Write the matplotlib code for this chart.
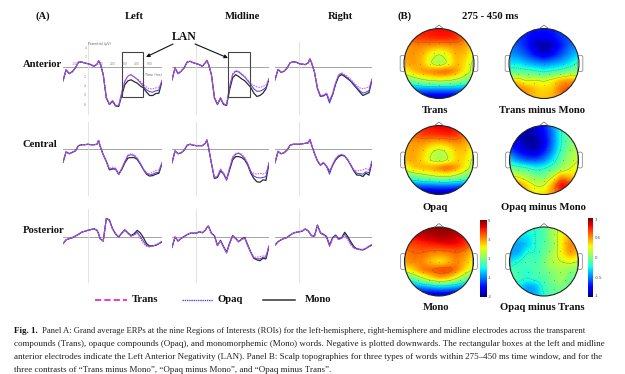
import numpy as np
import matplotlib
matplotlib.use("Agg")
import matplotlib.pyplot as plt
from matplotlib.patches import Circle, Rectangle, FancyBboxPatch

plt.rcParams['font.family'] = ['Liberation Serif', 'DejaVu Sans']

W, H = 625, 374

# ERP time axis (ms), same for every panel
times = [-200, -175, -150, -125, -100, -75, -50, -25, 0, 25, 50, 75, 87.5, 100,
         125, 150, 175, 200, 225, 250, 275, 300, 325, 350, 375, 400, 425, 450, 475, 500, 525, 550, 575, 600]

# baseline part up to 100 ms, the three conditions overlap there
pre_la = [-2.9, -0.6, -1.4, -1.0, -0.2, 1.0, 1.05, 0.85, 0.7, 0.5, 0.15, 0.6, 1.3, 0.85]
pre_ma = [-2.7, -0.2, -1.4, -0.9, -0.2, 1.05, 1.2, 0.9, 0.7, 0.5, 0.15, 0.9, 1.4, 0.7]
pre_ra = [-2.7, -0.5, -1.1, -0.9, -0.2, 0.9, 1.1, 1.0, 0.7, 0.6, 0.5, 0.9, 1.7, 1.0]
pre_cl = [-2.8, -0.6, -1.0, -0.7, -0.4, 0.7, 0.9, 0.9, 1.0, 0.9, 0.9, 1.0, 1.8, 0.6]
pre_cm = [-2.9, -0.4, -1.0, -0.8, -0.3, 0.8, 1.0, 0.8, 0.7, 0.7, 0.7, 1.2, 1.9, 0.5]
pre_cr = [-2.9, -0.5, -1.0, -0.8, -0.2, 0.8, 1.0, 1.0, 1.0, 1.1, 1.2, 1.3, 2.0, 1.0]
pre_pl = [-1.4, -0.6, -0.35, -0.15, 0.2, 0.55, 1.0, 1.2, 1.4, 1.55, 1.75, 1.4, 0.7, -0.35]
pre_pm = [-2.2, 0.0, -0.85, -0.3, 0.1, 0.5, 0.8, 0.8, 0.8, 1.1, 0.9, 1.4, 2.0, 2.3]
pre_pr = [-1.7, -1.0, -0.6, -0.3, -0.1, 0.4, 0.8, 1.0, 1.1, 1.25, 1.7, 1.25, 0.8, 0.3]

# 125 ms onwards
mono_la = [-1.6, -6.5, -7.9, -7.2, -8.2, -8.3, -5.9, -3.7, -2.9, -2.7, -3.1, -3.4, -4.0, -4.4, -5.3, -6.0, -6.0, -5.6, -5.5, -3.0]
trans_la = [-1.6, -6.4, -7.8, -7.0, -8.0, -8.1, -5.2, -2.9, -1.9, -1.7, -2.1, -2.5, -3.0, -3.7, -4.3, -4.6, -4.6, -4.4, -4.4, -2.8]
opaq_la = [-1.6, -6.4, -7.8, -7.1, -8.1, -8.2, -5.4, -3.0, -1.9, -1.6, -2.1, -2.6, -3.3, -4.1, -4.8, -5.2, -5.3, -5.0, -4.9, -2.8]

mono_ma = [-1.6, -6.5, -7.9, -6.6, -7.9, -8.1, -4.8, -2.3, -1.6, -2.0, -2.5, -2.9, -3.6, -4.3, -5.5, -6.2, -6.0, -5.5, -4.6, -2.5]
trans_ma = [-1.6, -6.4, -7.8, -6.4, -7.7, -7.9, -3.9, -1.4, -0.7, -0.9, -1.4, -2.0, -2.7, -3.4, -3.9, -4.2, -4.3, -4.1, -3.8, -2.4]
opaq_ma = [-1.6, -6.4, -7.8, -6.5, -7.8, -8.0, -4.2, -1.6, -0.9, -1.05, -1.6, -2.1, -2.9, -3.7, -4.6, -5.1, -5.1, -4.8, -4.3, -2.5]

mono_ra = [-1.0, -4.5, -6.2, -6.0, -5.6, -7.2, -5.8, -3.6, -2.0, -1.6, -2.0, -2.5, -3.0, -3.8, -4.5, -5.3, -6.0, -5.7, -5.4, -2.7]
trans_ra = [-1.0, -4.4, -6.0, -5.9, -5.5, -7.0, -5.4, -3.2, -1.6, -1.2, -1.6, -2.0, -2.6, -3.3, -3.9, -4.4, -4.6, -4.4, -4.2, -2.5]
opaq_ra = [-1.0, -4.5, -6.2, -6.1, -5.7, -7.6, -5.8, -3.4, -1.7, -1.4, -1.8, -2.3, -2.9, -3.6, -4.3, -5.0, -5.5, -5.3, -5.0, -2.6]

mono_cl = [-1.2, -2.6, -4.4, -4.2, -4.2, -5.3, -4.3, -2.9, -1.9, -1.8, -1.8, -2.2, -3.2, -4.3, -5.3, -5.7, -5.6, -5.3, -5.1, -3.0]
trans_cl = [-1.2, -2.5, -4.1, -3.8, -4.0, -5.3, -4.0, -2.5, -1.2, -1.0, -1.2, -1.9, -3.0, -4.2, -5.0, -5.2, -4.9, -4.5, -4.4, -2.8]
opaq_cl = [-1.2, -2.6, -4.3, -4.1, -4.2, -5.4, -4.1, -2.6, -1.4, -1.2, -1.4, -2.0, -3.0, -4.3, -5.1, -5.5, -5.3, -5.0, -4.9, -2.9]

mono_cm = [-3.0, -6.2, -6.0, -4.6, -5.2, -6.4, -4.4, -2.3, -1.6, -1.6, -1.8, -2.3, -3.4, -5.1, -6.2, -6.9, -7.0, -6.5, -6.6, -3.0]
trans_cm = [-3.0, -6.0, -5.6, -4.2, -5.0, -6.3, -3.9, -1.6, -0.9, -0.8, -1.1, -1.8, -3.0, -4.6, -5.1, -5.3, -5.1, -5.3, -5.0, -2.9]
opaq_cm = [-3.0, -6.1, -5.8, -4.4, -5.2, -6.6, -4.1, -1.9, -1.1, -0.9, -1.3, -2.0, -3.2, -4.8, -5.7, -6.0, -6.1, -6.0, -5.8, -2.9]

mono_cr = [-0.9, -2.5, -3.4, -2.9, -3.6, -4.8, -3.4, -2.3, -1.6, -1.3, -1.5, -2.3, -3.4, -4.6, -5.5, -5.5, -5.8, -5.1, -5.5, -2.7]
trans_cr = [-0.9, -2.4, -3.3, -2.8, -3.6, -4.6, -3.2, -2.0, -1.3, -1.1, -1.4, -2.2, -3.3, -4.3, -4.6, -4.5, -4.4, -4.1, -4.4, -2.5]
opaq_cr = [-0.9, -2.5, -3.4, -2.9, -3.7, -5.3, -3.4, -2.1, -1.4, -1.2, -1.5, -2.3, -3.4, -4.5, -5.1, -5.2, -5.3, -4.8, -5.0, -2.6]

mono_pl = [-0.85, 3.9, 3.6, 1.75, 0.7, 0.0, 0.85, 1.5, 0.85, 0.3, 0.7, 1.4, 0.85, -0.15, -1.4, -1.9, -1.85, -1.75, -1.4, -1.05]
trans_pl = [-0.9, 3.8, 3.5, 1.6, 0.6, -0.1, 0.7, 1.4, 0.7, 0.1, 0.4, 0.8, -0.3, -1.4, -2.0, -2.1, -1.9, -1.6, -1.3, -0.8]
opaq_pl = [-0.9, 3.9, 3.5, 1.7, 0.6, -0.05, 0.8, 1.45, 0.8, 0.2, 0.5, 1.0, 0.1, -0.9, -1.8, -2.0, -1.9, -1.7, -1.4, -1.0]

mono_pm = [0.8, 0.3, -1.8, -0.7, -2.0, -3.2, -1.3, 0.3, -0.3, -1.0, -0.4, -0.1, -1.7, -3.2, -4.5, -4.8, -5.0, -4.5, -4.6, -2.0]
trans_pm = [0.8, 0.2, -1.9, -0.8, -2.1, -3.3, -1.5, 0.2, -0.4, -1.0, -0.5, -0.3, -1.9, -3.3, -4.2, -4.3, -4.1, -4.0, -3.8, -1.8]
opaq_pm = [0.8, 0.2, -1.8, -0.8, -2.1, -3.4, -1.4, 0.2, -0.3, -1.0, -0.5, -0.2, -1.8, -3.3, -4.4, -4.6, -4.6, -4.3, -4.2, -1.9]

mono_pr = [0.15, 2.5, 0.9, 0.55, 0.1, -1.7, -0.15, 0.4, -0.4, -0.15, 1.0, 0.1, -1.0, -2.0, -2.5, -2.6, -2.7, -2.4, -2.0, -1.7]
trans_pr = [0.1, 2.4, 0.8, 0.4, -0.1, -2.0, -0.4, 0.2, -0.6, -0.3, 0.4, -0.6, -1.7, -2.4, -2.6, -2.6, -2.6, -2.3, -1.9, -1.5]
opaq_pr = [0.1, 2.5, 0.8, 0.5, 0.0, -1.9, -0.3, 0.3, -0.5, -0.2, 0.6, -0.3, -1.4, -2.2, -2.5, -2.7, -2.7, -2.4, -2.0, -1.6]

row_names = ["Anterior", "Central", "Posterior"]
col_names = ["Left", "Midline", "Right"]
condition_names = ["Trans", "Opaq", "Mono"]

# scalp maps, 9x9 grids from the front of the head to the back
map_trans = [[3.9, 4.0, 4.1, 4.2, 4.2, 4.2, 4.1, 3.8, 3.2],
             [3.5, 3.7, 3.9, 4.0, 4.1, 4.1, 3.9, 3.4, 2.8],
             [3.0, 3.1, 3.1, 3.0, 2.9, 3.0, 3.1, 2.9, 2.4],
             [2.9, 3.0, 2.8, 2.1, 1.7, 2.1, 2.8, 2.6, 2.0],
             [2.8, 3.0, 2.7, 1.8, 1.2, 1.8, 2.7, 2.4, 1.5],
             [2.1, 2.6, 3.0, 3.2, 3.5, 3.5, 3.0, 2.2, 1.5],
             [0.7, 1.1, 1.5, 1.8, 1.9, 1.8, 1.5, 1.1, 0.6],
             [-1.0, -0.9, -0.8, -0.8, -0.8, -0.8, -0.8, -0.9, -1.0],
             [-2.6, -2.6, -2.6, -2.6, -2.6, -2.6, -2.6, -2.6, -2.6]]
map_opaq = [[3.8, 4.0, 4.1, 4.2, 4.3, 4.3, 4.2, 3.8, 3.2],
            [3.3, 3.5, 3.8, 3.9, 4.0, 4.1, 3.9, 3.4, 2.8],
            [2.9, 3.0, 3.0, 2.8, 2.7, 2.9, 3.1, 2.9, 2.4],
            [2.8, 2.9, 2.6, 1.9, 1.5, 1.9, 2.6, 2.6, 2.0],
            [2.7, 2.9, 2.4, 1.7, 1.3, 1.7, 2.5, 2.4, 1.6],
            [2.0, 2.6, 2.8, 2.9, 3.3, 3.6, 3.0, 2.2, 1.4],
            [0.5, 0.9, 1.2, 1.5, 1.7, 1.7, 1.4, 1.0, 0.5],
            [-1.2, -1.1, -1.0, -1.0, -0.9, -0.9, -1.0, -1.1, -1.2],
            [-2.8, -2.8, -2.8, -2.8, -2.8, -2.8, -2.8, -2.8, -2.8]]
map_mono = [[4.5, 4.7, 4.8, 4.9, 4.9, 4.9, 4.7, 4.4, 4.0],
            [4.1, 4.3, 4.5, 4.6, 4.7, 4.7, 4.5, 4.2, 3.6],
            [3.6, 3.7, 3.9, 4.0, 4.1, 4.2, 4.2, 3.9, 3.2],
            [3.2, 3.4, 3.4, 3.2, 3.1, 3.2, 3.4, 3.1, 2.5],
            [3.0, 3.2, 3.1, 2.6, 2.2, 2.6, 3.2, 2.8, 2.1],
            [2.1, 2.6, 3.3, 3.5, 3.8, 3.8, 3.3, 2.4, 1.7],
            [0.4, 0.8, 1.6, 2.3, 2.8, 2.6, 1.8, 1.0, 0.4],
            [-1.1, -1.0, -0.8, -0.6, -0.4, -0.5, -0.7, -1.0, -1.1],
            [-2.6, -2.6, -2.6, -2.6, -2.6, -2.6, -2.6, -2.6, -2.6]]
map_trans_mono = [[-0.65, -0.65, -0.7, -0.7, -0.7, -0.7, -0.6, -0.55, -0.5],
                  [-0.6, -0.65, -0.7, -0.8, -0.8, -0.75, -0.65, -0.6, -0.5],
                  [-0.5, -0.6, -0.7, -0.9, -0.95, -0.9, -0.7, -0.55, -0.45],
                  [-0.45, -0.5, -0.6, -0.75, -0.85, -0.75, -0.6, -0.45, -0.35],
                  [-0.3, -0.3, -0.4, -0.45, -0.5, -0.45, -0.4, -0.3, -0.15],
                  [-0.1, -0.1, -0.1, -0.15, -0.2, -0.15, -0.1, 0.0, 0.05],
                  [0.3, 0.35, 0.2, 0.25, 0.2, 0.3, 0.45, 0.5, 0.4],
                  [0.45, 0.55, 0.5, 0.4, 0.35, 0.4, 0.6, 0.65, 0.6],
                  [0.5, 0.55, 0.5, 0.4, 0.4, 0.45, 0.55, 0.6, 0.55]]
map_opaq_mono = [[-0.8, -0.85, -0.85, -0.8, -0.7, -0.45, -0.2, 0.0, 0.1],
                 [-0.8, -0.9, -0.95, -0.9, -0.75, -0.5, -0.2, 0.0, 0.1],
                 [-0.75, -0.85, -0.95, -0.95, -0.8, -0.5, -0.2, 0.0, 0.1],
                 [-0.6, -0.75, -0.85, -0.9, -0.7, -0.45, -0.15, 0.05, 0.15],
                 [-0.35, -0.5, -0.6, -0.6, -0.5, -0.3, -0.05, 0.1, 0.2],
                 [-0.05, -0.1, -0.15, -0.25, -0.2, -0.1, 0.05, 0.2, 0.3],
                 [0.3, 0.2, 0.1, 0.0, 0.0, 0.2, 0.5, 0.4, 0.35],
                 [0.6, 0.55, 0.35, 0.2, 0.2, 0.5, 0.85, 0.75, 0.5],
                 [0.6, 0.5, 0.4, 0.3, 0.35, 0.5, 0.7, 0.6, 0.45]]
map_opaq_trans = [[-0.2, -0.2, -0.2, -0.2, -0.1, 0.1, 0.25, 0.35, 0.4],
                  [-0.3, -0.3, -0.3, -0.2, -0.1, 0.1, 0.3, 0.45, 0.4],
                  [-0.4, -0.45, -0.35, -0.2, -0.1, 0.05, 0.3, 0.55, 0.5],
                  [-0.45, -0.4, -0.2, -0.2, -0.05, 0.1, 0.3, 0.5, 0.4],
                  [-0.3, -0.2, -0.1, -0.15, 0.0, 0.15, 0.2, 0.25, 0.2],
                  [-0.1, -0.15, -0.2, -0.1, -0.05, 0.05, 0.1, 0.05, 0.0],
                  [-0.1, -0.15, -0.2, -0.15, -0.1, 0.0, 0.1, -0.05, -0.1],
                  [-0.2, -0.3, -0.45, -0.4, -0.15, -0.05, 0.0, -0.1, -0.1],
                  [-0.2, -0.3, -0.45, -0.4, -0.2, -0.1, -0.1, -0.1, -0.1]]

elec_x = [-0.3, 0.3, -0.6, -0.3, 0.0, 0.3, 0.6, -0.75, -0.45, -0.15, 0.15, 0.45, 0.75, -0.85, -0.55, -0.25, 0.0, 0.25,
          0.55, 0.85, -0.75, -0.45, -0.15, 0.15, 0.45, 0.75, -0.6, -0.3, 0.0, 0.3, 0.6, -0.3, 0.3]
elec_y = [0.8, 0.8, 0.55, 0.55, 0.6, 0.55, 0.55, 0.3, 0.3, 0.3, 0.3, 0.3, 0.3, 0.0, 0.0, 0.0, 0.0, 0.0,
          0.0, 0.0, -0.3, -0.3, -0.3, -0.3, -0.3, -0.3, -0.55, -0.55, -0.6, -0.55, -0.55, -0.8, -0.8]

caption_1 = "Panel A: Grand average ERPs at the nine Regions of Interests (ROIs) for the left-hemisphere, right-hemisphere and midline electrodes across the transparent"
caption_2 = "compounds (Trans), opaque compounds (Opaq), and monomorphemic (Mono) words. Negative is plotted downwards. The rectangular boxes at the left and midline"
caption_3 = "anterior electrodes indicate the Left Anterior Negativity (LAN). Panel B: Scalp topographies for three types of words within 275\u2013450 ms time window, and for the"
caption_4 = "three contrasts of \u201cTrans minus Mono\u201d, \u201cOpaq minus Mono\u201d, and \u201cOpaq minus Trans\u201d."


def px_axes(x0, y0, x1, y1, **kw):
    # axes placed by pixel box of the 625x374 picture
    return fig.add_axes([x0 / W, 1 - y1 / H, (x1 - x0) / W, (y1 - y0) / H], **kw)


def erp_panel(x0, x1, y_zero, y_top, y_bot, pre, mono, trans, opaq, labels=False):
    ax = px_axes(x0, y_top, x1, y_bot)
    ax.set_xlim(-200, 600)
    ax.set_ylim(-(y_bot - y_zero) / 4.75, (y_zero - y_top) / 4.75)
    ax.patch.set_alpha(0)
    for s in ax.spines.values():
        s.set_visible(False)
    ax.axhline(0, color="#a5a5a5", lw=0.7, zorder=1)
    ax.axvline(0, color="#dddddd", lw=0.6, zorder=1)
    ax.plot(times, pre + mono, color="#2a2a2a", lw=0.9, zorder=3)
    ax.plot(times, pre + opaq, color="#4a4ae8", lw=0.75, zorder=4)
    ax.plot(times, pre + trans, color="#e850d8", lw=0.75, ls=(0, (1.5, 1)), zorder=5)
    ax.set_xticks([])
    ax.set_yticks([])
    if labels:
        for t in [-100, 100, 200, 300, 400, 500]:
            ax.text(t, 0.25, str(t), fontsize=2.2, color="#888888", ha="center", va="bottom", family="DejaVu Sans")
        for v in [4, 2, -2, -4, -6, -8]:
            ax.text(-8, v, str(v), fontsize=2.2, color="#888888", ha="right", va="center", family="DejaVu Sans")
        ax.text(5, 4.9, "Potential (\u00b5V)", fontsize=2.4, color="#666666", va="center", family="DejaVu Sans")
        ax.text(600, -1.6, "Time (ms)", fontsize=2.4, color="#666666", ha="right", va="center", family="DejaVu Sans")
    return ax


def smooth_grid(grid, n=65):
    # finer version of a map so the contour lines come out round
    a = np.array(grid, dtype=float)
    old = np.linspace(0, 1, a.shape[0])
    new = np.linspace(0, 1, n)
    a = np.array([np.interp(new, old, row) for row in a])
    a = np.array([np.interp(new, old, col) for col in a.T]).T
    k = np.ones(5) / 5
    p = np.pad(a, 2, mode="edge")
    p = np.apply_along_axis(lambda v: np.convolve(v, k, mode="valid"), 0, p)
    a = np.apply_along_axis(lambda v: np.convolve(v, k, mode="valid"), 1, p)
    return a


def scalp(cx, cy, r, grid, vmin, vmax):
    m = 1.25
    ax = px_axes(cx - r * m, cy - r * m, cx + r * m, cy + r * m)
    ax.set_xlim(-m, m)
    ax.set_ylim(-m, m)
    ax.axis("off")
    clip = Circle((0, 0), 1.0, transform=ax.transData)
    fine = smooth_grid(grid)
    im = ax.imshow(fine, extent=(-1, 1, -1, 1), origin="upper", cmap="jet", vmin=vmin, vmax=vmax,
                   interpolation="bilinear", aspect="auto")
    im.set_clip_path(clip)
    xs = np.linspace(-1, 1, fine.shape[1])
    ys = np.linspace(1, -1, fine.shape[0])
    cs = ax.contour(xs, ys, fine, levels=np.linspace(vmin, vmax, 6)[1:-1], colors="#55554a", linewidths=0.3, alpha=0.6)
    cs.set_clip_path(clip)
    ax.plot(elec_x, elec_y, ls="none", marker=".", ms=0.8, mew=0, color="#333333", alpha=0.7)
    ax.add_patch(Circle((0, 0), 1.0, fill=False, ec="#222222", lw=0.8))
    ax.plot([-0.14, 0.0, 0.14], [0.99, 1.1, 0.99], color="#666666", lw=0.5)
    for side in [-1, 1]:
        x = side * 1.04 - 0.06
        ax.add_patch(FancyBboxPatch((x, -0.22), 0.12, 0.44, boxstyle="round,pad=0.01,rounding_size=0.05",
                                    fc="white", ec="#777777", lw=0.5, zorder=0.5))
    return ax


def colorbar(x0, y0, x1, y1, vmin, vmax, tick_vals, tick_txt):
    ax = px_axes(x0, y0, x1, y1)
    grad = np.linspace(vmax, vmin, 128).reshape(-1, 1)
    ax.imshow(grad, cmap="jet", vmin=vmin, vmax=vmax, aspect="auto", extent=(0, 1, vmin, vmax))
    ax.set_xticks([])
    ax.yaxis.tick_right()
    ax.set_yticks(tick_vals)
    ax.set_yticklabels(tick_txt, fontsize=2.8, color="#444444", family="DejaVu Sans")
    ax.tick_params(axis="y", length=0, pad=1)
    for s in ax.spines.values():
        s.set_visible(False)


fig = plt.figure(figsize=(W / 100, H / 100), dpi=100)
fig.patch.set_facecolor("white")

# pixel overlay for all the loose text and boxes
over = fig.add_axes([0, 0, 1, 1], zorder=10)
over.set_xlim(0, W)
over.set_ylim(H, 0)
over.axis("off")
over.patch.set_alpha(0)

col_x = [(63, 162), (172, 269), (275, 372)]
row_y = [(67, 42, 115), (149, 122, 196), (237, 209, 283)]
panels = [[(pre_la, mono_la, trans_la, opaq_la), (pre_ma, mono_ma, trans_ma, opaq_ma), (pre_ra, mono_ra, trans_ra, opaq_ra)],
          [(pre_cl, mono_cl, trans_cl, opaq_cl), (pre_cm, mono_cm, trans_cm, opaq_cm), (pre_cr, mono_cr, trans_cr, opaq_cr)],
          [(pre_pl, mono_pl, trans_pl, opaq_pl), (pre_pm, mono_pm, trans_pm, opaq_pm), (pre_pr, mono_pr, trans_pr, opaq_pr)]]
for i, (yz, yt, yb) in enumerate(row_y):
    for j, (x0, x1) in enumerate(col_x):
        erp_panel(x0, x1, yz, yt, yb, *panels[i][j], labels=(i == 0 and j == 0))

bold = dict(fontweight="bold", color="#111111", va="center")
over.text(43, 16, "(A)", ha="center", fontsize=7.7, **bold)
for name, x in zip(col_names, [134, 242, 340]):
    over.text(x, 16, name, ha="center", fontsize=7.7, **bold)
for name, y in zip(row_names, [64, 144, 230]):
    over.text(22.5, y, name, ha="left", fontsize=7.7, **bold)
over.text(405, 16, "(B)", ha="center", fontsize=7.7, **bold)
over.text(490, 16, "275 - 450 ms", ha="center", fontsize=7.7, **bold)
over.text(184, 37, "LAN", ha="center", fontsize=8.5, **bold)

# LAN boxes and arrows
for x0, x1 in [(122, 143), (228, 250)]:
    over.add_patch(Rectangle((x0, 52), x1 - x0, 45, fill=False, ec="#444444", lw=0.8))
over.annotate("", xy=(146, 57), xytext=(173, 44), arrowprops=dict(arrowstyle="-|>", color="#111111", lw=0.8, mutation_scale=5, shrinkA=0, shrinkB=0))
over.annotate("", xy=(228, 58), xytext=(195, 44), arrowprops=dict(arrowstyle="-|>", color="#111111", lw=0.8, mutation_scale=5, shrinkA=0, shrinkB=0))

# legend
leg_styles = [("#e83cc8", (0, (3.2, 1.6)), 1.4), ("#4a4ae0", (0, (1, 0.6)), 1.0), ("#333333", "-", 1.1)]
for name, (c, ls, lw), x0, x1, xt in zip(condition_names, leg_styles, [95, 182, 263], [127, 213, 295], [132, 218, 305]):
    over.plot([x0, x1], [300, 300], color=c, ls=ls, lw=lw)
    over.text(xt, 300, name, ha="left", fontsize=7.7, **bold)

# panel B
scalp(439, 63.5, 35, map_trans, -3, 5)
scalp(544, 63.5, 35, map_trans_mono, -1, 1)
scalp(439, 160, 34.5, map_opaq, -3, 5)
scalp(544, 160, 34.5, map_opaq_mono, -1, 1)
scalp(439, 261.5, 34.5, map_mono, -3, 5)
scalp(544, 261.5, 34.5, map_opaq_trans, -1, 1)
colorbar(480, 220, 486, 297, -3, 5, [4.9, 3, 1, -1, -2.9], ["5", "3", "1", "-1", "-3"])
colorbar(588, 218, 593, 297, -1, 1, [0.97, 0.5, 0, -0.5, -0.97], ["1", "0.5", "0", "-0.5", "-1"])

for name, x, y in [("Trans", 435, 110), ("Trans minus Mono", 542, 110), ("Opaq", 435, 207),
                   ("Opaq minus Mono", 543, 207), ("Mono", 436, 307), ("Opaq minus Trans", 542, 307)]:
    over.text(x, y, name, ha="center", fontsize=7.7, **bold)

# caption
over.text(14, 331, "Fig. 1.", fontweight="bold", fontsize=6.5, color="#111111", va="center")
over.text(42, 331, caption_1, fontsize=6.24, color="#222222", va="center")
over.text(14, 344, caption_2, fontsize=6.5, color="#222222", va="center")
over.text(14, 357, caption_3, fontsize=6.5, color="#222222", va="center")
over.text(14, 370, caption_4, fontsize=6.5, color="#222222", va="center")

fig.savefig("out.png", dpi=100)
